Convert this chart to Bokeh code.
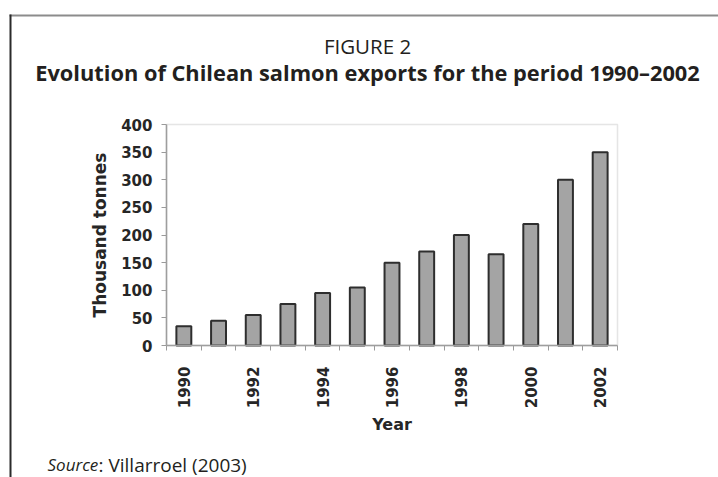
from math import pi
from bokeh.plotting import figure
from bokeh.models import FixedTicker, Label, BoxAnnotation, Range1d
from bokeh.embed import file_html
from bokeh.resources import INLINE

# ---- data ----
years = [1990, 1991, 1992, 1993, 1994, 1995, 1996, 1997, 1998, 1999, 2000, 2001, 2002]
exports = [35, 45, 55, 75, 95, 105, 150, 170, 200, 165, 220, 300, 350]
y_ticks = [0, 50, 100, 150, 200, 250, 300, 350, 400]
x_label_years = [1990, 1992, 1994, 1996, 1998, 2000, 2002]

# ---- layout (page pixels) ----
W, H = 718, 477
PLOT_L, PLOT_R, PLOT_T, PLOT_B = 166, 617, 124, 345
TEXT_SHIFT = 8  # alphabetic-baseline correction of screen labels

x0, x1 = years[0] - 0.5, years[-1] + 0.5
y0, y1 = y_ticks[0], y_ticks[-1]
kx = (PLOT_R - PLOT_L) / (x1 - x0)
ky = (PLOT_B - PLOT_T) / (y1 - y0)

p = figure(width=W, height=H, output_backend="svg", toolbar_location=None,
           x_range=Range1d(x0 - PLOT_L / kx, x1 + (W - PLOT_R) / kx),
           y_range=Range1d(y0 - (H - PLOT_B) / ky, y1 + PLOT_T / ky),
           min_border=0)
p.min_border_left = p.min_border_right = p.min_border_top = p.min_border_bottom = 0
p.background_fill_color = "white"
p.border_fill_color = "white"
p.outline_line_color = None
p.grid.visible = False


def sy(page_y):
    return H - page_y


def sy_text(page_baseline):
    return H - (page_baseline - TEXT_SHIFT)


# chart box (top and right rules of the plotting area)
p.add_layout(BoxAnnotation(left=x0, right=x1, bottom=y0, top=y1,
                           fill_color=None, line_color="#a8a8a8", line_width=1.5))

p.vbar(x=years, top=exports, width=0.43, bottom=0, fill_color="#a4a4a4",
       line_color="#2e2e2e", line_width=2)

chart_font = "DejaVu Sans"
xa = p.xaxis[0]
xa.fixed_location = y0
xa.bounds = (x0, x1)
xa.ticker = FixedTicker(ticks=x_label_years, minor_ticks=[y - 0.5 for y in years] + [x1])
xa.major_tick_line_color = None
xa.major_tick_out = 0
xa.major_tick_in = 0
xa.minor_tick_out = 5
xa.minor_tick_in = 0
xa.minor_tick_line_color = "#9a9a9a"
xa.axis_line_color = "#9a9a9a"
xa.axis_line_width = 1.5
xa.major_label_orientation = pi / 2
xa.major_label_standoff = 16
xa.major_label_text_font = chart_font
xa.major_label_text_font_style = "bold"
xa.major_label_text_font_size = "15px"
xa.major_label_text_color = "#262626"
xa.axis_label = "Year"
xa.axis_label_text_font = chart_font
xa.axis_label_text_font_style = "bold"
xa.axis_label_text_font_size = "16px"
xa.axis_label_text_color = "#262626"
xa.axis_label_standoff = 4

ya = p.yaxis[0]
ya.fixed_location = x0
ya.bounds = (y0, y1)
ya.ticker = FixedTicker(ticks=y_ticks)
ya.minor_tick_line_color = None
ya.major_tick_out = 5
ya.major_tick_in = 0
ya.major_tick_line_color = "#9a9a9a"
ya.axis_line_color = "#9a9a9a"
ya.axis_line_width = 1.5
ya.major_label_standoff = 9
ya.major_label_text_font = chart_font
ya.major_label_text_font_style = "bold"
ya.major_label_text_font_size = "15px"
ya.major_label_text_color = "#262626"
ya.axis_label = "Thousand tonnes"
ya.axis_label_text_font = chart_font
ya.axis_label_text_font_style = "bold"
ya.axis_label_text_font_size = "17px"
ya.axis_label_text_color = "#262626"
ya.axis_label_standoff = 8

# outer figure frame: top rule and left rule
p.add_layout(BoxAnnotation(left=9, right=W + 20, top=sy(14), bottom=sy(16),
                           left_units="screen", right_units="screen",
                           top_units="screen", bottom_units="screen",
                           fill_color="#8c8c8c", fill_alpha=1, line_color=None))
p.add_layout(BoxAnnotation(left=9, right=11, top=sy(14), bottom=sy(H + 20),
                           left_units="screen", right_units="screen",
                           top_units="screen", bottom_units="screen",
                           fill_color="#2b2b2b", fill_alpha=1, line_color=None))

title_font = "Open Sans"
p.add_layout(Label(x=367, y=sy_text(53), x_units="screen", y_units="screen", text="FIGURE 2",
                   text_font=title_font, text_font_size="20.5px", text_color="#231f20",
                   text_align="center", text_baseline="alphabetic"))
p.add_layout(Label(x=367, y=sy_text(80), x_units="screen", y_units="screen",
                   text="Evolution of Chilean salmon exports for the period 1990\u20132002",
                   text_font=title_font, text_font_style="bold", text_font_size="21.8px",
                   text_color="#231f20", text_align="center", text_baseline="alphabetic"))

p.add_layout(Label(x=47, y=sy_text(472), x_units="screen", y_units="screen", text="Source",
                   text_font=title_font, text_font_style="italic", text_font_size="17px",
                   text_color="#231f20", text_align="left", text_baseline="alphabetic"))
p.add_layout(Label(x=98, y=sy_text(472), x_units="screen", y_units="screen",
                   text=": Villarroel (2003)",
                   text_font=title_font, text_font_size="19px",
                   text_color="#231f20", text_align="left", text_baseline="alphabetic"))

open("out.html", "w").write(file_html(p, INLINE))
